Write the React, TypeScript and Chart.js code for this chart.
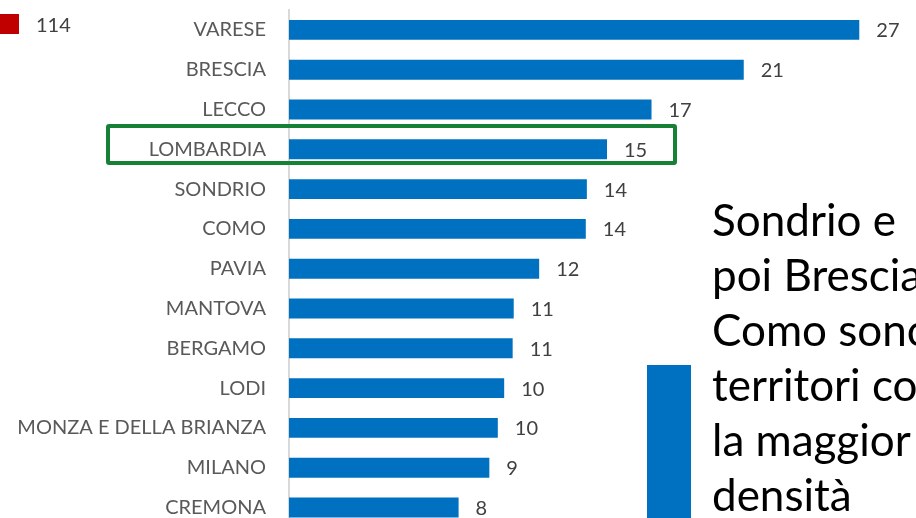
import React, { useEffect, useRef } from "react";
import { Chart, registerables } from "chart.js";

Chart.register(...registerables);

const categories = [
  "VARESE",
  "BRESCIA",
  "LECCO",
  "LOMBARDIA",
  "SONDRIO",
  "COMO",
  "PAVIA",
  "MANTOVA",
  "BERGAMO",
  "LODI",
  "MONZA E DELLA BRIANZA",
  "MILANO",
  "CREMONA",
];

const values = [26.9, 21.45, 17.1, 15.0, 14.05, 14.0, 11.8, 10.6, 10.55, 10.15, 9.85, 9.45, 8.0];

const sideValueLabel = "114";
const noteLines = ["Sondrio e", "poi Brescia", "Como sono", "territori co", "la maggior", "densità"];

const FONT = "Lato, 'Open Sans', sans-serif";

const valueLabelPlugin = {
  id: "valueLabels",
  afterDatasetsDraw(chart: any) {
    const ctx = chart.ctx;
    const meta = chart.getDatasetMeta(0);
    ctx.save();
    ctx.font = `20px ${FONT}`;
    ctx.fillStyle = "#404040";
    ctx.textAlign = "left";
    ctx.textBaseline = "middle";
    meta.data.forEach((bar: any, i: number) => {
      const v = chart.data.datasets[0].data[i];
      ctx.fillText(String(Math.round(v)), bar.x + 17, bar.y + 1);
    });
    ctx.restore();
  },
};

export default function App() {
  const ref = useRef<HTMLCanvasElement | null>(null);

  useEffect(() => {
    if (!ref.current) return;
    const chart = new Chart(ref.current, {
      type: "bar",
      data: {
        labels: categories,
        datasets: [
          {
            data: values,
            backgroundColor: "#0070C0",
            borderWidth: 0,
            barPercentage: 0.5,
            categoryPercentage: 1,
          },
        ],
      },
      options: {
        indexAxis: "y",
        responsive: false,
        animation: false,
        devicePixelRatio: 1,
        layout: { padding: { left: 0, right: 12.2, top: 10, bottom: 2.6 } },
        plugins: {
          legend: { display: false },
          tooltip: { enabled: false },
        },
        scales: {
          x: {
            display: false,
            min: 0,
            max: 29,
          },
          y: {
            afterFit: (scale: any) => {
              scale.width = 289;
              scale.paddingTop = 0;
              scale.paddingBottom = 0;
            },
            grid: { display: false, drawTicks: false },
            border: { display: true, color: "#d9d9d9", width: 2 },
            ticks: {
              padding: 23,
              color: "#595959",
              font: { family: FONT, size: 20 },
            },
          },
        },
      },
      plugins: [valueLabelPlugin],
    });
    return () => chart.destroy();
  }, []);

  return (
    <div
      style={{
        position: "fixed",
        left: 0,
        top: 0,
        width: 916,
        height: 518,
        overflow: "hidden",
        background: "#ffffff",
      }}
    >
      <canvas ref={ref} width={916} height={530} style={{ position: "absolute", left: 0, top: 0 }} />
      <div
        style={{
          position: "absolute",
          left: 0,
          top: 14,
          width: 19,
          height: 20,
          background: "#C00000",
        }}
      />
      <div
        style={{
          position: "absolute",
          left: 36,
          top: 11,
          font: `20px ${FONT}`,
          lineHeight: "26px",
          color: "#404040",
        }}
      >
        {sideValueLabel}
      </div>
      <div
        style={{
          position: "absolute",
          left: 106,
          top: 124,
          width: 571,
          height: 41,
          border: "4px solid #168037",
          borderRadius: 3,
          boxSizing: "border-box",
        }}
      />
      <div
        style={{
          position: "absolute",
          left: 647,
          top: 365,
          width: 44,
          height: 170,
          background: "#0070C0",
        }}
      />
      <div
        style={{
          position: "absolute",
          left: 712,
          top: 192,
          font: `44px ${FONT}`,
          lineHeight: "55px",
          color: "#000000",
          whiteSpace: "nowrap",
        }}
      >
        {noteLines.map((l, i) => (
          <div key={i}>{l}</div>
        ))}
      </div>
    </div>
  );
}
